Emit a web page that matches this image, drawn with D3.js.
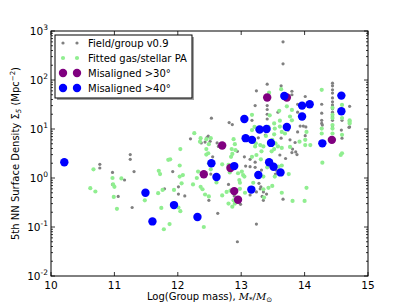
<!DOCTYPE html>
<html>
<head>
<meta charset="utf-8">
<script src="https://cdn.jsdelivr.net/npm/d3@7"></script>
<style>
    body { margin: 0; background: #fff; }
    svg { display: block; font-family: "DejaVu Sans", sans-serif; }
    .axis-frame { fill: none; stroke: #000; stroke-width: 1; }
    .tick-line { stroke: #000; stroke-width: 0.8; }
</style>
</head>
<body>
<div id="chart"></div>
<script>
// data: group mass (log) and 5th NN surface density
var fieldMass = [11.25, 11.25, 10.77, 10.77, 10.97, 11.31, 11.16, 10.97, 11.06, 11.28, 11.92, 11.79, 12.01, 12.01, 12.11,
    12.20, 12.48, 12.43, 12.49, 12.55, 12.94, 13.05, 13.14, 13.07, 13.14, 13.22, 13.22, 13.32, 13.28, 13.31, 13.35,
    13.40, 13.33, 13.35, 13.24, 13.14, 12.89, 12.99, 12.80, 12.52, 12.63, 13.24, 12.94, 13.61, 13.70, 13.80, 13.88,
    13.54, 13.55, 13.66, 13.30, 14.70, 14.58, 14.28, 13.93, 13.98, 13.89, 13.86, 13.81, 13.85, 13.41, 13.24, 13.22,
    13.41, 13.41, 13.41, 13.41, 12.53, 12.86, 12.81, 12.37, 12.46, 12.51, 12.62, 12.64, 13.17, 13.25, 13.27, 13.38,
    13.58, 13.66, 13.66, 13.63, 13.80, 13.80, 14.01, 13.89, 13.89, 14.02, 14.27, 14.27, 14.27, 14.27, 14.44, 14.44,
    14.44, 14.44, 14.44, 14.44, 14.44, 14.44, 14.44, 14.44, 14.44, 14.44, 14.59, 14.59, 14.71, 14.71, 13.63, 13.74,
    13.77, 14.01];
var fieldDensity = [3.0, 2.4, 1.9, 1.6, 1.3, 1.35, 0.91, 0.74, 0.42, 0.25, 1.35, 0.6, 0.66, 0.47, 0.43,
    6.3, 7.2, 5.4, 0.35, 2.7, 3.5, 2.7, 2.4, 1.75, 1.7, 2.1, 1.65, 1.45, 0.78, 0.66, 0.52,
    0.47, 0.42, 0.35, 0.52, 0.45, 0.43, 0.29, 0.74, 1.2, 0.19, 0.115, 0.05, 2.95, 2.5, 3.3, 3.0,
    1.2, 1.45, 0.37, 0.6, 10.8, 9.5, 12, 11.5, 11.5, 8.7, 3.4, 3.9, 5.3, 82, 60, 30,
    30, 25, 20, 16, 16.6, 12.3, 13.5, 5.2, 6.7, 5.6, 5.2, 4.4, 15, 9.5, 6.6, 7.5,
    22, 600, 214, 76, 59, 50, 46, 32, 22, 11, 32, 21, 15, 13, 86, 76,
    63, 54, 43, 36, 31, 26, 22, 18, 15, 11, 15, 6.5, 29, 11, 6.5, 9.5,
    6, 7.3];

var fittedMass = [10.67, 10.97, 11.11, 10.98, 11.00, 10.62, 10.70, 10.99, 11.04, 11.48, 11.70, 11.72, 11.85, 11.88,
    12.03, 12.04, 12.08, 12.03, 12.06, 11.94, 11.76, 11.69, 11.74, 12.01, 12.04, 11.87, 11.78, 12.26, 12.35, 12.36,
    12.45, 12.48, 12.45, 12.32, 12.30, 12.24, 12.36, 12.39, 12.43, 12.41, 12.49, 12.52, 12.49, 12.61, 12.70, 12.80,
    12.84, 12.86, 12.82, 12.95, 13.01, 13.05, 12.97, 12.98, 13.03, 12.83, 12.77, 12.70, 12.88, 12.80, 12.86, 12.90,
    12.98, 13.06, 13.19, 13.35, 13.41, 13.48, 13.59, 13.64, 13.63, 13.53, 13.75, 13.35, 13.43, 13.49, 13.36, 13.64,
    13.81, 14.00, 14.03, 14.28, 14.57, 13.17, 13.24, 13.31, 13.48, 13.32, 14.71, 14.03, 13.92, 12.52, 12.49, 12.45,
    12.88, 12.90, 12.85, 12.91, 13.44, 13.45, 13.52, 13.17, 13.21, 13.17, 13.23, 13.30, 13.22, 13.39, 13.52, 13.49,
    13.54, 13.35, 13.52, 13.58, 13.43, 13.53, 13.63, 13.60, 13.72, 13.80, 13.77, 13.80, 13.61, 13.61, 13.64, 13.69,
    13.64, 13.77, 14.01, 14.01, 14.09, 14.27, 14.27, 14.27, 14.44, 14.44, 14.44, 14.44, 14.44, 14.44, 14.59, 14.59,
    14.59, 14.71, 14.71, 14.59];
var fittedDensity = [1.5, 1.0, 0.98, 0.74, 0.66, 0.62, 0.53, 0.41, 0.235, 0.35, 1.4, 1.2, 2.35, 2.4,
    1.8, 3.9, 1.15, 1.07, 0.78, 0.57, 0.57, 0.49, 0.245, 0.25, 0.21, 0.115, 0.09, 8.2, 5.5, 6.5,
    6.2, 3.2, 3.0, 1.35, 1.0, 0.74, 0.66, 0.59, 0.46, 0.10, 2.0, 1.5, 0.42, 0.81, 1.9, 1.85,
    2.7, 3.1, 1.3, 1.25, 1.35, 1.07, 0.91, 0.8, 1.15, 0.55, 0.52, 0.44, 0.35, 0.30, 0.26, 0.30,
    0.6, 0.5, 0.8, 1.07, 1.65, 1.95, 1.7, 1.8, 1.35, 1.07, 1.2, 0.59, 0.63, 0.69, 0.40, 0.5,
    0.34, 0.34, 0.63, 2.05, 2.95, 2.7, 2.95, 2.4, 3.5, 3.5, 14, 8.7, 5.5, 6.5, 4.9, 3.9,
    6.2, 4.9, 3.9, 3.7, 55, 19, 13, 19.5, 11, 9.5, 5.1, 4.7, 4.4, 7.2, 7.8, 6,
    5.1, 4.4, 3.9, 4.4, 11, 10.2, 65, 23.5, 29, 24.5, 18, 15, 14.8, 11.2, 8.7, 8.1,
    4.1, 4.3, 6, 4.7, 4.7, 63, 10.2, 8.1, 27, 19.5, 16.7, 12, 10.2, 8.1, 31, 16.7,
    7.6, 15, 13, 3.2];

var mis30Mass = [12.41, 12.70, 12.83, 12.89, 12.95, 13.41, 13.72, 14.43];
var mis30Density = [1.19, 4.6, 1.6, 0.54, 0.36, 44, 44, 6];

var mis40Mass = [10.21, 11.49, 11.60, 11.94, 12.31, 12.53, 12.61, 12.89, 13.05, 13.07, 13.17, 13.29, 13.40, 13.47,
    13.72, 13.44, 13.51, 13.62, 13.27, 13.16, 14.28, 13.68, 13.96, 14.08, 13.96, 14.58, 14.58];
var mis40Density = [2.1, 0.5, 0.13, 0.28, 0.16, 2.0, 1.05, 1.75, 16, 6.5, 6, 9.8, 10, 5.2,
    11, 2.1, 1.7, 1.3, 1.15, 0.58, 5.1, 47, 30, 32, 18, 48, 23];

var xTicks = [10, 11, 12, 13, 14, 15];
var yExponents = [-2, -1, 0, 1, 2, 3];

var seriesNames = ["Field/group v0.9", "Fitted gas/stellar PA", "Misaligned >30\u00b0", "Misaligned >40\u00b0"];

var width = 409, height = 307;
var margin = { top: 31, right: 41, bottom: 31, left: 51 };

var svg = d3.select("#chart").append("svg")
    .attr("width", width)
    .attr("height", height);

var x = d3.scaleLinear().domain([10, 15]).range([margin.left, width - margin.right]);
var y = d3.scaleLog().domain([1e-2, 1e3]).range([height - margin.bottom, margin.top]);

function zip(xs, ys) {
    return xs.map(function (v, i) { return [v, ys[i]]; });
}

var series = [
    { name: seriesNames[0], data: zip(fieldMass, fieldDensity), color: "#808080", r: 1.6 },
    { name: seriesNames[1], data: zip(fittedMass, fittedDensity), color: "#90ee90", r: 2.1 },
    { name: seriesNames[2], data: zip(mis30Mass, mis30Density), color: "#800080", r: 4.2 },
    { name: seriesNames[3], data: zip(mis40Mass, mis40Density), color: "#0000ff", r: 4.2 }
];

// points
series.forEach(function (s) {
    svg.append("g").selectAll("circle")
        .data(s.data)
        .enter().append("circle")
        .attr("cx", function (d) { return x(d[0]); })
        .attr("cy", function (d) { return y(d[1]); })
        .attr("r", s.r)
        .attr("fill", s.color);
});

// ticks, inside, on all four sides
var x0 = x.range()[0], x1 = x.range()[1], y0 = y.range()[0], y1 = y.range()[1];
var ticks = svg.append("g");

xTicks.forEach(function (t) {
    ticks.append("line").attr("class", "tick-line")
        .attr("x1", x(t)).attr("x2", x(t)).attr("y1", y0).attr("y2", y0 - 4);
    ticks.append("line").attr("class", "tick-line")
        .attr("x1", x(t)).attr("x2", x(t)).attr("y1", y1).attr("y2", y1 + 4);
    ticks.append("text")
        .attr("x", x(t)).attr("y", y0 + 13)
        .attr("text-anchor", "middle")
        .attr("font-size", "10.5px")
        .text(t);
});

yExponents.forEach(function (e, i) {
    var v = Math.pow(10, e);
    ticks.append("line").attr("class", "tick-line")
        .attr("x1", x0).attr("x2", x0 + 4).attr("y1", y(v)).attr("y2", y(v));
    ticks.append("line").attr("class", "tick-line")
        .attr("x1", x1).attr("x2", x1 - 4).attr("y1", y(v)).attr("y2", y(v));
    // minor ticks
    if (i < yExponents.length - 1) {
        for (var m = 2; m <= 9; m++) {
            var mv = m * v;
            ticks.append("line").attr("class", "tick-line")
                .attr("x1", x0).attr("x2", x0 + 2).attr("y1", y(mv)).attr("y2", y(mv));
            ticks.append("line").attr("class", "tick-line")
                .attr("x1", x1).attr("x2", x1 - 2).attr("y1", y(mv)).attr("y2", y(mv));
        }
    }
    var lbl = ticks.append("text")
        .attr("x", x0 - 3).attr("y", y(v) + 4)
        .attr("text-anchor", "end")
        .attr("font-size", "10.5px");
    lbl.append("tspan").text("10");
    lbl.append("tspan").attr("dy", -5).attr("font-size", "7.5px").text(e);
});

// frame
svg.append("rect").attr("class", "axis-frame")
    .attr("x", x0).attr("y", y1)
    .attr("width", x1 - x0).attr("height", y0 - y1);

// axis titles
var xt = svg.append("text")
    .attr("x", (x0 + x1) / 2).attr("y", 300)
    .attr("text-anchor", "middle")
    .attr("font-size", "10px");
xt.append("tspan").text("Log(Group mass), ");
xt.append("tspan").attr("font-style", "italic").attr("font-family", "DejaVu Serif").text("M");
xt.append("tspan").attr("dy", 2).attr("font-size", "7px").attr("font-family", "DejaVu Serif").text("*");
xt.append("tspan").attr("dy", -2).attr("font-family", "DejaVu Serif").text("/");
xt.append("tspan").attr("font-style", "italic").attr("font-family", "DejaVu Serif").text("M");
xt.append("tspan").attr("dy", 2).attr("font-size", "7px").text("\u2299");

var yt = svg.append("text")
    .attr("transform", "translate(19," + ((y0 + y1) / 2) + ") rotate(-90)")
    .attr("text-anchor", "middle")
    .attr("font-size", "10px");
yt.append("tspan").text("5th NN Surface Density \u03a3");
yt.append("tspan").attr("dy", 2).attr("font-size", "7px").attr("font-style", "italic").text("5");
yt.append("tspan").attr("dy", -2).text(" (Mpc");
yt.append("tspan").attr("dy", -4).attr("font-size", "7px").text("\u22122");
yt.append("tspan").attr("dy", 4).text(")");

// legend with shadow
var legend = svg.append("g");
legend.append("rect")
    .attr("x", 57).attr("y", 37).attr("width", 137).attr("height", 63)
    .attr("fill", "#555").attr("opacity", 0.55);
legend.append("rect")
    .attr("x", 55).attr("y", 35).attr("width", 137).attr("height", 63)
    .attr("fill", "#fff").attr("stroke", "#000").attr("stroke-width", 1);

series.forEach(function (s, i) {
    var ly = 43 + i * 15;
    [63, 77].forEach(function (lx) {
        legend.append("circle")
            .attr("cx", lx).attr("cy", ly).attr("r", s.r)
            .attr("fill", s.color);
    });
    legend.append("text")
        .attr("x", 88).attr("y", ly + 3.5)
        .attr("font-size", "10px")
        .text(s.name);
});
</script>
</body>
</html>
